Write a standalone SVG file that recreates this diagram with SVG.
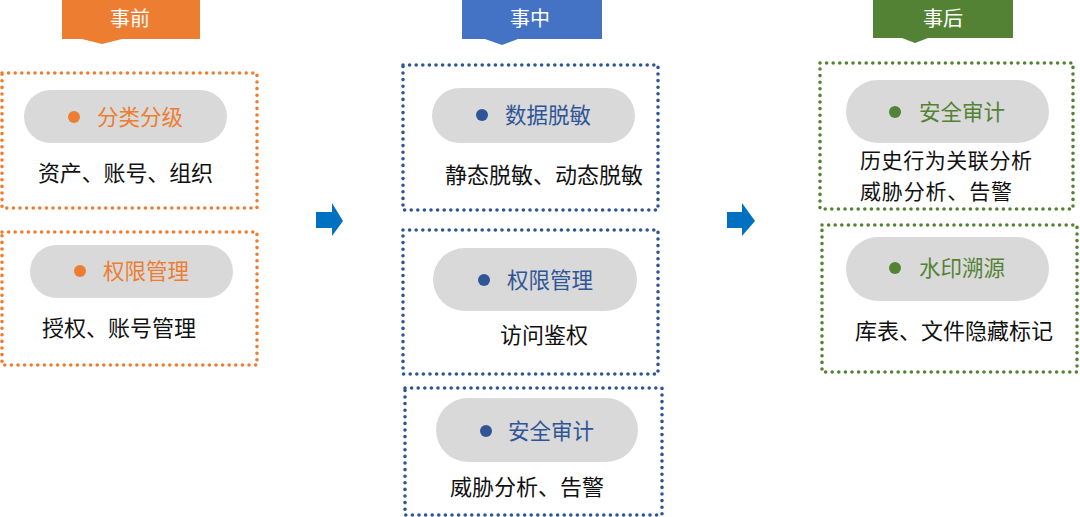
<svg xmlns="http://www.w3.org/2000/svg" width="1080" height="517" viewBox="0 0 1080 517">
<style>
text{font-family:"Noto Sans CJK SC","Noto Sans",sans-serif;}
.tab{font-size:20px;fill:#fff;text-anchor:middle;}
.box{fill:none;stroke-width:3.6;stroke-dasharray:0 6.6;stroke-linecap:round;}
.o{stroke:#ED7D31;}
.b{stroke:#2F5597;}
.g{stroke:#548235;}
.pill{fill:#D9D9D9;}
.lbl{font-size:21.5px;}
.sub{font-size:22px;fill:#111;}
.sub2{font-size:21px;fill:#111;}
.arrow{fill:#0070C0;}
</style>
<rect width="1080" height="517" fill="#fff"/>
<g id="tab-before">
<path d="M62,0 H200 V39 H122 L102,44 L82,39 H62 Z" fill="#ED7D31"/>
<text class="tab" x="130" y="26">事前</text>
</g>
<g id="tab-during">
<path d="M462,0 H602 V39 H518 L502,45 L485,39 H462 Z" fill="#4472C4"/>
<text class="tab" x="530" y="26">事中</text>
</g>
<g id="tab-after">
<path d="M873,0 H1013 V38 H928 L915,43 L902,38 H873 Z" fill="#548235"/>
<text class="tab" x="943" y="26">事后</text>
</g>
<g id="before-classify">
<rect class="box o" x="2" y="73" width="255" height="135"/>
<rect class="pill" x="24" y="90" width="203" height="53" rx="26.5"/>
<circle cx="74" cy="117" r="6" fill="#ED7D31"/>
<text class="lbl" x="97" y="125" fill="#ED7D31">分类分级</text>
<text class="sub" x="38" y="181" textLength="175" lengthAdjust="spacing">资产、账号、组织</text>
</g>
<g id="before-permission">
<rect class="box o" x="2" y="232" width="255" height="133"/>
<rect class="pill" x="30" y="245" width="203" height="53" rx="26.5"/>
<circle cx="80" cy="271" r="6" fill="#ED7D31"/>
<text class="lbl" x="103" y="279" fill="#ED7D31">权限管理</text>
<text class="sub" x="42" y="336">授权、账号管理</text>
</g>
<g id="during-masking">
<rect class="box b" x="403" y="65" width="255" height="145"/>
<rect class="pill" x="432" y="88" width="203" height="55" rx="27.5"/>
<circle cx="482" cy="115" r="6" fill="#2F5597"/>
<text class="lbl" x="505" y="123" fill="#2F5597">数据脱敏</text>
<text class="sub" x="445" y="183">静态脱敏、动态脱敏</text>
</g>
<g id="during-permission">
<rect class="box b" x="403" y="230" width="255" height="144"/>
<rect class="pill" x="433" y="248" width="204" height="63" rx="31.5"/>
<circle cx="484" cy="280" r="6" fill="#2F5597"/>
<text class="lbl" x="507" y="288" fill="#2F5597">权限管理</text>
<text class="sub" x="500" y="343">访问鉴权</text>
</g>
<g id="during-audit">
<rect class="box b" x="405" y="388" width="257" height="127"/>
<rect class="pill" x="436" y="398" width="202" height="64" rx="32"/>
<circle cx="486" cy="431" r="6" fill="#2F5597"/>
<text class="lbl" x="508" y="439" fill="#2F5597">安全审计</text>
<text class="sub" x="450" y="495">威胁分析、告警</text>
</g>
<g id="after-audit">
<rect class="box g" x="820" y="63" width="253" height="146"/>
<rect class="pill" x="846" y="80" width="203" height="63" rx="31.5"/>
<circle cx="895" cy="112" r="6" fill="#548235"/>
<text class="lbl" x="919" y="120" fill="#548235">安全审计</text>
<text class="sub2" x="860" y="168" textLength="172" lengthAdjust="spacing">历史行为关联分析</text>
<text class="sub2" x="860" y="199" textLength="152" lengthAdjust="spacing">威胁分析、告警</text>
</g>
<g id="after-watermark">
<rect class="box g" x="822" y="225" width="255" height="147"/>
<rect class="pill" x="846" y="237" width="203" height="64" rx="32"/>
<circle cx="895" cy="268" r="6" fill="#548235"/>
<text class="lbl" x="919" y="276" fill="#548235">水印溯源</text>
<text class="sub" x="855" y="339">库表、文件隐藏标记</text>
</g>
<g id="connectors">
<polygon class="arrow" points="316,212 332,212 332,203 343,221 332,236 332,228 316,228"/>
<polygon class="arrow" points="727,212 742,212 742,203 755,221 742,236 742,228 727,228"/>
</g>
</svg>
